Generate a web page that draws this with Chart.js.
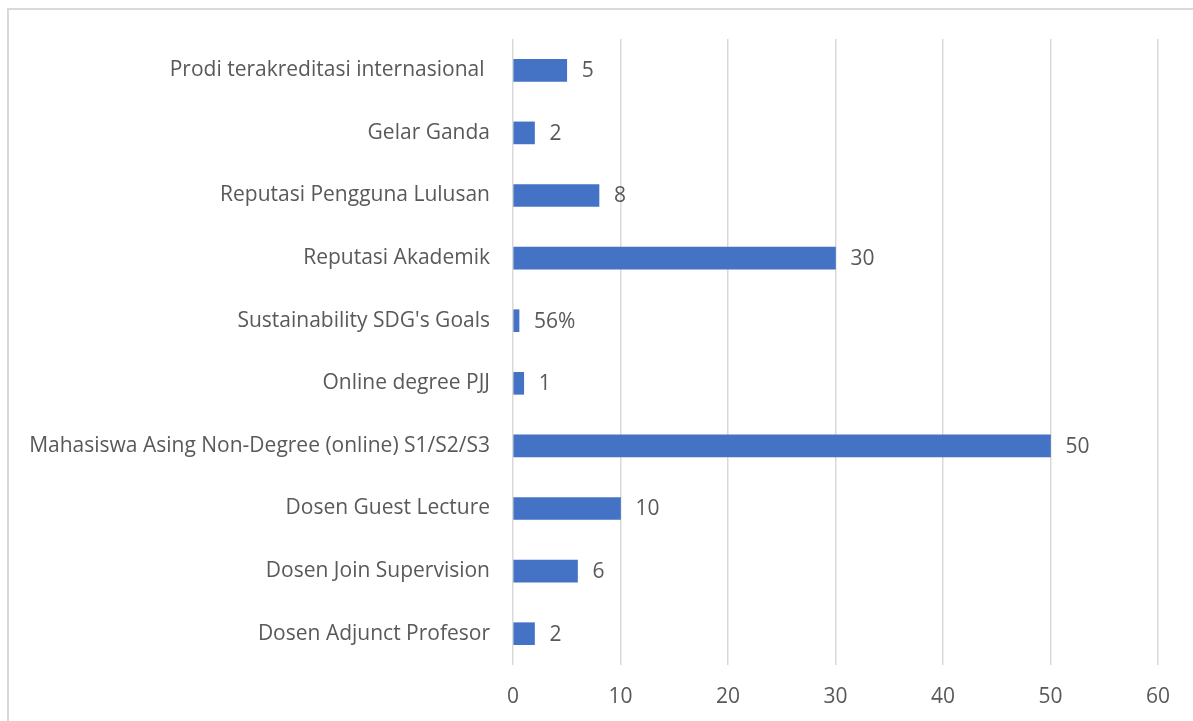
<!DOCTYPE html>
<html>
<head>
<meta charset="utf-8">
<script src="https://cdn.jsdelivr.net/npm/chart.js@4"></script>
<style>
  html, body { margin: 0; padding: 0; background: #fff; }
  #wrap { position: relative; width: 1193px; height: 721px; overflow: hidden; }
  #frame { position: absolute; left: 7px; top: 8px; width: 1300px; height: 800px; border: 2px solid #d9d9d9; box-sizing: border-box; }
  canvas { position: absolute; left: 0; top: 0; }
</style>
</head>
<body>
<div id="wrap">
  <div id="frame"></div>
  <canvas id="c" width="1193" height="721"></canvas>
</div>
<script>
const categories = [
  "Prodi terakreditasi internasional ",
  "Gelar Ganda",
  "Reputasi Pengguna Lulusan",
  "Reputasi Akademik",
  "Sustainability SDG's Goals",
  "Online degree PJJ",
  "Mahasiswa Asing Non-Degree (online) S1/S2/S3",
  "Dosen Guest Lecture",
  "Dosen Join Supervision",
  "Dosen Adjunct Profesor"
];
const values = [5, 2, 8, 30, 0.56, 1, 50, 10, 6, 2];
const valueLabels = ["5", "2", "8", "30", "56%", "1", "50", "10", "6", "2"];
const xTicks = [0, 10, 20, 30, 40, 50, 60];

const FONT = "'Open Sans', 'Noto Sans', sans-serif";
const TEXT = '#595959';
const FS = 21;

const labelPlugin = {
  id: 'barLabels',
  afterDatasetsDraw(chart) {
    const ctx = chart.ctx;
    const meta = chart.getDatasetMeta(0);
    ctx.save();
    ctx.font = FS + 'px ' + FONT;
    ctx.fillStyle = TEXT;
    ctx.textAlign = 'left';
    ctx.textBaseline = 'middle';
    meta.data.forEach((bar, i) => {
      ctx.fillText(valueLabels[i], bar.x + 15, bar.y + 1);
    });
    ctx.restore();
  }
};

new Chart(document.getElementById('c'), {
  type: 'bar',
  data: {
    labels: categories,
    datasets: [{
      data: values,
      backgroundColor: '#4472C4',
      barThickness: 22
    }]
  },
  options: {
    indexAxis: 'y',
    responsive: false,
    animation: false,
    layout: { padding: { top: 39, right: 35, left: 0, bottom: 0 } },
    plugins: { legend: { display: false }, tooltip: { enabled: false } },
    scales: {
      x: {
        min: 0, max: 60,
        afterBuildTicks(scale) { scale.ticks = xTicks.map(v => ({ value: v })); },
        afterFit(scale) { scale.height = 56; },
        border: { display: false },
        grid: { color: '#d9d9d9', lineWidth: 1.5, drawTicks: false },
        ticks: { color: TEXT, font: { family: FONT, size: FS }, padding: 19 }
      },
      y: {
        afterFit(scale) { scale.width = 513; },
        border: { display: false },
        grid: { display: false, drawTicks: false },
        ticks: { color: TEXT, font: { family: FONT, size: FS }, padding: 23 }
      }
    }
  },
  plugins: [labelPlugin]
});
</script>
</body>
</html>
